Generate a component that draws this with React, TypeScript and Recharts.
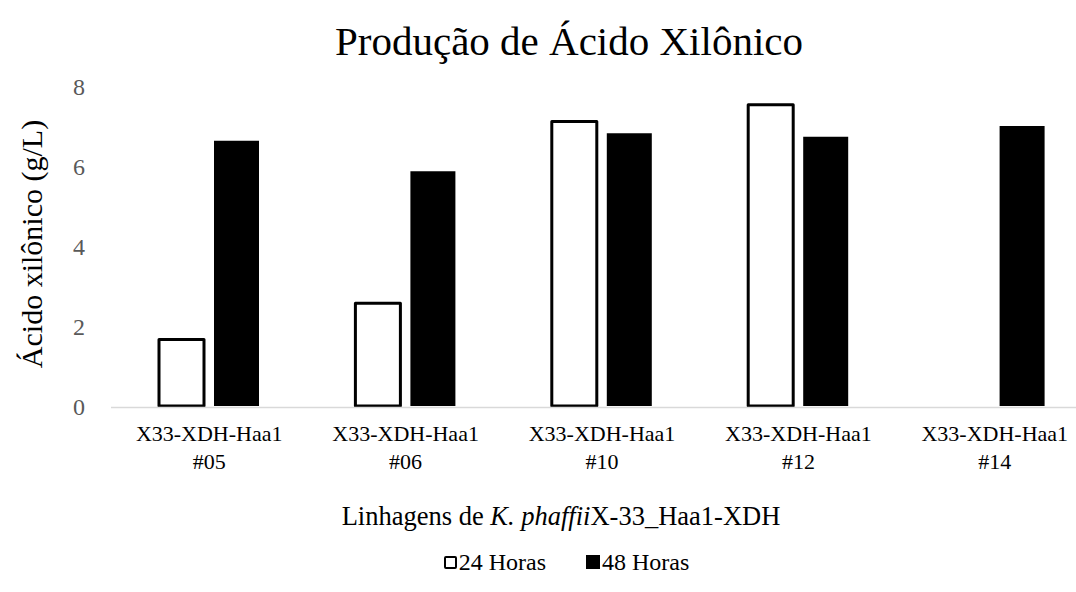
import React from "react";
import { BarChart, Bar, XAxis, YAxis, Legend } from "recharts";

const strains = ["#05", "#06", "#10", "#12", "#14"];
const horas24 = [1.66, 2.57, 7.11, 7.53, null];
const horas48 = [6.63, 5.87, 6.82, 6.73, 7.0];
const yTicks = [0, 2, 4, 6, 8];

const data = strains.map((s, i) => ({
  name: s,
  h24: horas24[i],
  h48: horas48[i],
}));

const FONT = '"Liberation Serif", "Times New Roman", serif';

function StrainTick({ x, y, payload }: any) {
  return (
    <text x={x} textAnchor="middle" style={{ fontFamily: FONT }} fontSize={22} fill="#000">
      <tspan x={x} y={y + 27}>X33-XDH-Haa1</tspan>
      <tspan x={x} y={y + 55}>{payload.value}</tspan>
    </text>
  );
}

function XTitle() {
  return (
    <text x={561} y={525} textAnchor="middle" style={{ fontFamily: FONT }} fontSize={26.5} fill="#000">
      Linhagens de <tspan fontStyle="italic">K. phaffii</tspan>X-33_Haa1-XDH
    </text>
  );
}

function YTitle() {
  return (
    <text
      x={42}
      y={244}
      textAnchor="middle"
      transform="rotate(-90, 42, 244)"
      style={{ fontFamily: FONT }}
      fontSize={30}
      fill="#000"
    >
      Ácido xilônico (g/L)
    </text>
  );
}

function LegendBox() {
  const item = (label: string, hollow: boolean) => (
    <span style={{ display: "inline-flex", alignItems: "center", margin: "0 20px" }}>
      <span
        style={{
          width: hollow ? 9 : 14,
          height: hollow ? 9 : 14,
          background: hollow ? "#fff" : "#000",
          border: hollow ? "2.5px solid #000" : "none",
          borderRadius: hollow ? 2 : 0,
          marginRight: 2,
          display: "inline-block",
        }}
      />
      {label}
    </span>
  );
  return (
    <div
      style={{
        height: 40,
        display: "flex",
        justifyContent: "center",
        alignItems: "center",
        fontFamily: FONT,
        fontSize: 24,
        color: "#000",
        transform: "translateX(20px)",
      }}
    >
      {item("24 Horas", true)}
      {item("48 Horas", false)}
    </div>
  );
}

export default function App() {
  return (
    <div
      style={{
        position: "absolute",
        left: 0,
        top: 0,
        width: 1076,
        height: 592,
        overflow: "hidden",
        background: "#fff",
      }}
    >
      <div
        style={{
          position: "absolute",
          left: 569,
          top: 21,
          transform: "translateX(-50%)",
          whiteSpace: "nowrap",
          fontFamily: FONT,
          fontSize: 41,
          lineHeight: 1,
          color: "#000",
        }}
      >
        Produção de Ácido Xilônico
      </div>
      <BarChart
        width={1100}
        height={592}
        data={data}
        margin={{ top: 86, right: 7, left: 0, bottom: 10 }}
        barSize={45}
        barGap={10}
      >
        <XAxis
          dataKey="name"
          height={136}
          axisLine={{ stroke: "#d9d9d9", strokeWidth: 1.5, transform: "translate(0, 1.5)" }}
          tickLine={false}
          tick={<StrainTick />}
          interval={0}
          label={<XTitle />}
        />
        <YAxis
          width={111}
          domain={[0, 8]}
          ticks={yTicks}
          axisLine={false}
          tickLine={false}
          tickMargin={20}
          tick={{ fill: "#595959", fontSize: 24, fontFamily: FONT }}
          label={<YTitle />}
        />
        <Legend verticalAlign="bottom" content={<LegendBox />} wrapperStyle={{ height: 40 }} />
        <Bar
          dataKey="h24"
          name="24 Horas"
          fill="#fff"
          stroke="#000"
          strokeWidth={3}
          strokeLinejoin="round"
          isAnimationActive={false}
        />
        <Bar dataKey="h48" name="48 Horas" fill="#000" isAnimationActive={false} />
      </BarChart>
    </div>
  );
}
